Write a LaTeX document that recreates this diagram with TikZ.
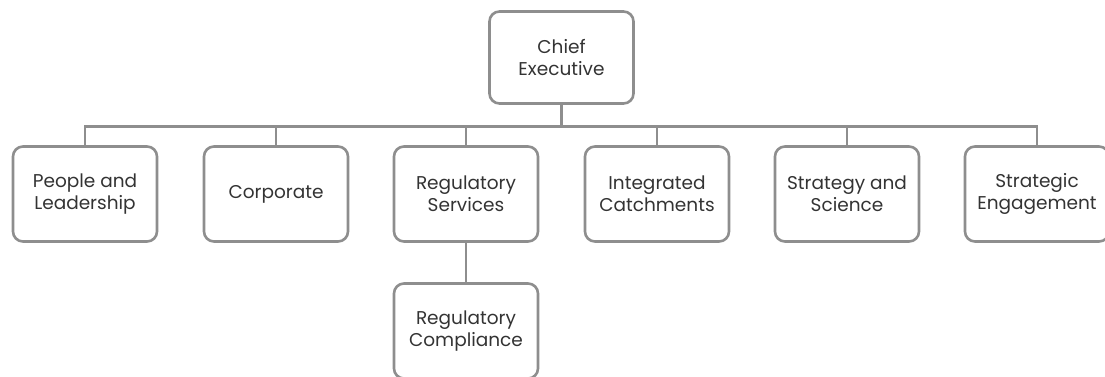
\documentclass[tikz,border=0pt]{standalone}
\usepackage{fontspec}
\setmainfont{Poppins}
\definecolor{linegray}{HTML}{8E8E8E}
\definecolor{textgray}{HTML}{333333}

\tikzset{
    unit/.style={rectangle,draw=linegray,line width=2.6pt,rounded corners=10pt,
        minimum width=144pt,minimum height=95pt,align=center,text=textgray,
        font=\fontsize{18.5}{22}\selectfont},
    link/.style={draw=linegray,line width=2.6pt}
}

\begin{document}
\begin{tikzpicture}[x=1pt,y=-1pt]
    \useasboundingbox (0,0) rectangle (1105,376);
    \clip (0,0) rectangle (1105,376);

    \node[unit,minimum height=92pt] (chief) at (561.5,57.5) {Chief\\Executive};

    \node[unit] (people) at (85,194) {People and\\Leadership};
    \node[unit] (corp) at (276,194) {Corporate};
    \node[unit] (regserv) at (466,194) {Regulatory\\Services};
    \node[unit] (integ) at (657,194) {Integrated\\Catchments};
    \node[unit] (strat) at (847,194) {Strategy and\\Science};
    \node[unit] (engage) at (1037,194) {Strategic\\Engagement};

    \node[unit] (regcomp) at (466,331) {Regulatory\\Compliance};

    \coordinate (bus) at (0,126.5);

    \draw[link] (chief.south) -- (chief.south |- bus);
    \draw[link] (people.north) -- (people.north |- bus) -- (engage.north |- bus) -- (engage.north);
    \foreach \n in {corp,regserv,integ,strat}
        \draw[link] (\n.north) -- (\n.north |- bus);
    \draw[link] (regserv.south) -- (regcomp.north);
\end{tikzpicture}
\end{document}
